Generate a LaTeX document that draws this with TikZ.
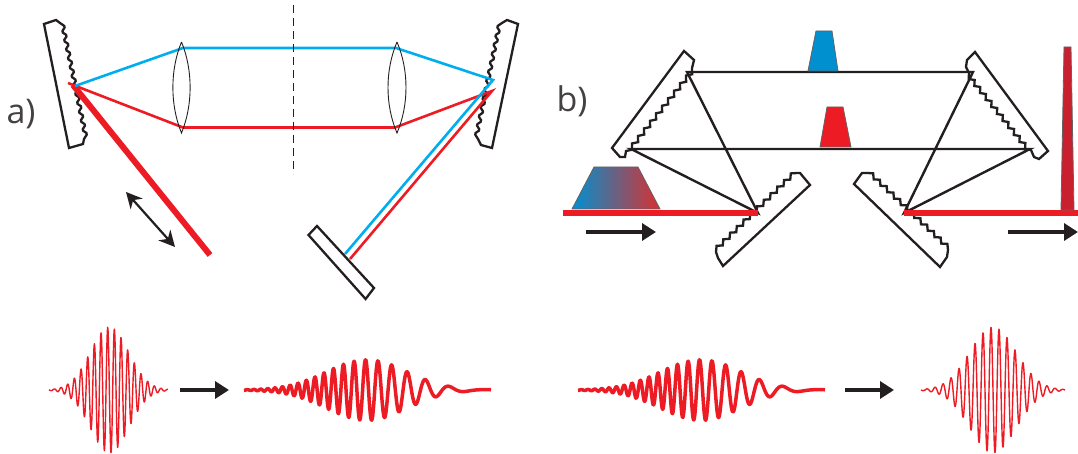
\documentclass[tikz,border=0pt]{standalone}
\usepackage{fontspec}
\setmainfont{Open Sans}
\usepackage{xcolor}
\usetikzlibrary{arrows.meta, calc}
\definecolor{pulsered}{HTML}{ED1C24}
\definecolor{beamblue}{HTML}{00AEEF}
\definecolor{inkblack}{HTML}{231F20}
\definecolor{specblue}{HTML}{0090D0}
\definecolor{specred}{HTML}{D93030}
\definecolor{tallred}{HTML}{C8202F}
\newcommand{\sawedge}[5]{
  \foreach \i in {1,...,#3} {
    -- ($(#1)!{(\i-0.5)/#3}!(#2)!#5!#4:(#2)$) -- ($(#1)!{\i/#3}!(#2)$)
  }
}
\tikzset{
  grating/.style={draw=inkblack, line width=1.15pt, line join=miter},
  beam/.style={line width=1.3pt},
  redbeam/.style={beam, draw=pulsered},
  bluebeam/.style={beam, draw=beamblue},
  blackbeam/.style={draw=inkblack, line width=1.2pt},
  fatbeam/.style={draw=pulsered, line width=3pt},
  lens/.style={draw=inkblack, line width=0.45pt},
  spectrum/.style={draw=inkblack!70, line width=0.4pt},
  move/.style={draw=inkblack, line width=1.7pt, -{Triangle[length=7pt,width=8.5pt]}},
  fine/.style={draw=pulsered, line width=0.7pt, line join=round},
  chirped/.style={draw=pulsered, line width=1.75pt, line join=round},
  panel/.style={font=\fontsize{17}{17}\selectfont, text=inkblack!85, inner sep=0pt},
}
\begin{document}
\begin{tikzpicture}[x=0.5pt, y=-0.5pt,
  declare function={
    gauss(\u,\s)=exp(-0.5*(\u/\s)*(\u/\s));
    chirp(\v)=\v*(0.0429+0.000297*\v)+0.48;
  }]
  \useasboundingbox (0,0) rectangle (1078,454);

  \node[panel] (pa) at (21,114) {a)};
  \node[panel] (pb) at (572,101) {b)};

  % stretcher
  \coordinate (ga1) at (60,23);
  \coordinate (ga2) at (84,139);
  \coordinate (gb1) at (502,23);
  \coordinate (gb2) at (478,139);
  \draw[grating] (60,23) -- (56,20) -- (44,24) -- (69,148) -- (83,144) -- (84,139)
    [rounded corners=0.6pt] \sawedge{ga2}{ga1}{13}{-90}{2.2pt};
  \draw[grating] (502,23) -- (507,20) -- (518,24) -- (492,148) -- (481,145) -- (478,139)
    [rounded corners=0.6pt] \sawedge{gb2}{gb1}{13}{90}{2.2pt};
  \draw[grating] (308.5,235) -- (317,226) -- (374,288) -- (365.6,299) -- cycle;

  \coordinate (b1) at (75,86);
  \coordinate (b2) at (183,48);
  \coordinate (b3) at (396,48);
  \coordinate (b4) at (493,80);
  \coordinate (b5) at (345,254);
  \coordinate (r1) at (68,83);
  \coordinate (r2) at (183,127.5);
  \coordinate (r3) at (395,127.5);
  \coordinate (r4) at (492,91);
  \coordinate (r5) at (350,259);
  \coordinate (fa) at (73,85);
  \coordinate (fb) at (210,255);

  \draw[fatbeam] (fa) -- (fb);
  \draw[redbeam] (r1) -- (r2) -- (r3) -- (r4) -- (r5);
  \draw[bluebeam] (b1) -- (b2) -- (b3) -- (b4) -- (b5);

  \draw[lens] (181.5,42) .. controls (170,70) and (170,105) .. (181.5,133)
    .. controls (193,105) and (193,70) .. (181.5,42);
  \draw[lens] (397,42) .. controls (385,70) and (385,105) .. (397,133)
    .. controls (409,105) and (409,70) .. (397,42);

  \coordinate (da) at (293,5);
  \coordinate (db) at (293,174);
  \draw[draw=inkblack, line width=0.5pt, dash pattern=on 4pt off 2.5pt] (da) -- (db);

  \coordinate (ma) at (126,192);
  \coordinate (mb) at (175,247);
  \draw[draw=inkblack, line width=1.1pt,
    {Stealth[length=8pt,width=8pt]}-{Stealth[length=8pt,width=8pt]}] (ma) -- (mb);

  % compressor
  \coordinate (g1a) at (692,68);
  \coordinate (g1b) at (626,151);
  \coordinate (g2a) at (797,173);
  \coordinate (g2b) at (716,252);
  \coordinate (g3a) at (969,73);
  \coordinate (g3b) at (1031,150);
  \coordinate (g4a) at (867,173);
  \coordinate (g4b) at (948,250);
  \draw[grating] (g1a) -- (694,60) -- (684,51) -- (612,148) -- (620,157) -- (625,157) -- (g1b)
    \sawedge{g1b}{g1a}{11}{-90}{2pt};
  \draw[grating] (g2a) -- (800,173) -- (810,185) -- (723,266) -- (718,258) -- (g2b)
    \sawedge{g2b}{g2a}{12}{90}{2pt};
  \draw[grating] (g3a) -- (966,67) -- (967,60) -- (975,52) -- (1048,151) -- (1039,159) -- (1034,157) -- (g3b)
    \sawedge{g3b}{g3a}{11}{90}{2pt};
  \draw[grating] (g4a) -- (862,173) -- (854,184) -- (940,267) -- (947,257) -- (g4b)
    \sawedge{g4b}{g4a}{12}{-90}{2pt};

  \coordinate (in) at (563,213);
  \coordinate (s1) at (758,213);
  \coordinate (s2) at (687,72);
  \coordinate (s3) at (631,149);
  \coordinate (s4) at (973,72);
  \coordinate (s5) at (1030,149);
  \coordinate (s6) at (904,213);
  \coordinate (out) at (1078,213);
  \draw[blackbeam] (s1) -- (s2) -- (s4) -- (s6) -- (s5) -- (s3) -- cycle;
  \draw[draw=pulsered, line width=2.7pt] (in) -- (s1);
  \draw[draw=pulsered, line width=2.7pt] (s6) -- (out);

  \draw[spectrum, left color=specblue, right color=specred]
    (572,209) -- (594,167) -- (638,167) -- (660,209) -- cycle;
  \draw[spectrum, fill=specblue] (808,71) -- (816,31) -- (832,31) -- (838,71) -- cycle;
  \draw[spectrum, fill=pulsered] (820,147) -- (827,107) -- (843,107) -- (851,147) -- cycle;
  \draw[spectrum, fill=tallred] (1061,210) -- (1064,47) -- (1071,47) -- (1074,210) -- cycle;

  \coordinate (ia) at (586,232);
  \coordinate (ib) at (656,232);
  \coordinate (oa) at (1008,232);
  \coordinate (ob) at (1078,232);
  \draw[move] (ia) -- (ib);
  \draw[move] (oa) -- (ob);

  % pulses
  \draw[fine] plot[domain=49:168, samples=360]
    (\x,{390-63*gauss(\x-109.5,19.2)*cos(53.97*(\x-107.7))});
  \draw[fine] plot[domain=921:1065, samples=420]
    (\x,{390-63*gauss(\x-993,23.2)*cos(45*(\x-991))});
  \foreach \dx in {0,334} {
    \draw[chirped, shift={(\dx,0)}] plot[domain=244:491, samples=500]
      (\x,{390-30.5*gauss(\x-366.7,40)*cos(360*chirp(436.7-\x))});
  }

  \coordinate (pa1) at (180,390);
  \coordinate (pa2) at (229,390);
  \coordinate (pb1) at (845,390);
  \coordinate (pb2) at (894,390);
  \draw[move] (pa1) -- (pa2);
  \draw[move] (pb1) -- (pb2);
\end{tikzpicture}
\end{document}
